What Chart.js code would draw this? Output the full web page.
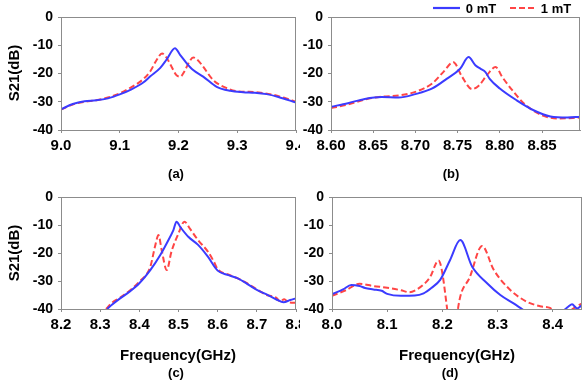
<!DOCTYPE html>
<html><head><meta charset="utf-8">
<script src="https://cdn.jsdelivr.net/npm/chart.js@4.4.1/dist/chart.umd.min.js"></script>
<style>
html,body{margin:0;padding:0;background:#fff;}
body{width:582px;height:380px;overflow:hidden;position:relative;font-family:"Liberation Sans",Arial,sans-serif;color:#000;}
.panel{position:absolute;}
.panel canvas{display:block;}
.txt{position:absolute;font-weight:bold;white-space:nowrap;transform:translate(-50%,-50%);line-height:1;}
.ytitle{position:absolute;font-weight:bold;font-size:15px;white-space:nowrap;transform:translate(-50%,-50%) rotate(-90deg);line-height:1;}
.leg{position:absolute;top:0;left:0;}
</style></head>
<body>
<div class="panel" style="left:0;top:0"><canvas id="ca" width="300" height="190"></canvas></div>
<div class="panel" style="left:300px;top:0"><canvas id="cb" width="282" height="190"></canvas></div>
<div class="panel" style="left:0;top:190px"><canvas id="cc" width="300" height="190"></canvas></div>
<div class="panel" style="left:300px;top:190px"><canvas id="cd" width="282" height="190"></canvas></div>

<div class="ytitle" style="left:13px;top:73px">S21(dB)</div>
<div class="ytitle" style="left:13px;top:253px">S21(dB)</div>
<div class="txt" style="left:178px;top:354px;font-size:15px">Frequency(GHz)</div>
<div class="txt" style="left:457px;top:354px;font-size:15px">Frequency(GHz)</div>
<div class="txt" style="left:176px;top:173px;font-size:13px">(a)</div>
<div class="txt" style="left:451px;top:173px;font-size:13px">(b)</div>
<div class="txt" style="left:176px;top:372px;font-size:13px">(c)</div>
<div class="txt" style="left:450px;top:372px;font-size:13px">(d)</div>

<svg class="leg" width="582" height="20" style="position:absolute;left:0;top:0">
  <line x1="433" y1="8" x2="460" y2="8" stroke="#3b3bff" stroke-width="2.2"/>
  <line x1="510" y1="8" x2="536" y2="8" stroke="#ff4545" stroke-width="2.2" stroke-dasharray="6,3"/>
</svg>
<div class="txt" id="lg0" style="left:481px;top:8px;font-size:13px"></div>
<div class="txt" id="lg1" style="left:556px;top:8px;font-size:13px"></div>

<script>
// ---------- data ----------
const seriesNames = ['0 mT', '1 mT'];
const yTickLabels = ['0', '-10', '-20', '-30', '-40'];

// (a)
const xTickLabelsA = ['9.0', '9.1', '9.2', '9.3', '9.4'];
const freqA0 = [9.00, 9.02, 9.04, 9.06, 9.08, 9.10, 9.12, 9.14, 9.152, 9.169, 9.18, 9.194, 9.203, 9.214, 9.225, 9.242, 9.265, 9.288, 9.31, 9.33, 9.35, 9.37, 9.40];
const s21A0  = [-32.7, -30.8, -29.8, -29.5, -28.8, -27.4, -25.6, -23.2, -21.0, -18.0, -15.0, -11.1, -13.5, -16.4, -18.8, -21.1, -24.7, -26.1, -26.6, -26.8, -27.3, -28.3, -30.3];
const freqA1 = [9.00, 9.02, 9.04, 9.06, 9.08, 9.10, 9.12, 9.14, 9.152, 9.162, 9.172, 9.18, 9.188, 9.196, 9.203, 9.21, 9.218, 9.225, 9.233, 9.242, 9.259, 9.282, 9.30, 9.32, 9.34, 9.36, 9.38, 9.40];
const s21A1  = [-32.8, -31.0, -30.0, -29.5, -28.5, -27.0, -24.8, -22.0, -19.2, -15.5, -12.9, -14.5, -17.5, -20.5, -21.1, -19.3, -16.0, -14.3, -15.3, -17.6, -22.3, -25.2, -26.3, -26.5, -26.8, -27.5, -28.6, -30.0];

// (b)
const xTickLabelsB = ['8.60', '8.65', '8.70', '8.75', '8.80', '8.85'];
const freqB0 = [8.60, 8.62, 8.64, 8.66, 8.68, 8.70, 8.72, 8.737, 8.753, 8.763, 8.771, 8.777, 8.783, 8.788, 8.80, 8.82, 8.84, 8.86, 8.88, 8.895];
const s21B0  = [-31.8, -30.5, -29.0, -28.3, -28.5, -27.3, -25.3, -21.9, -18.3, -14.2, -17.1, -18.3, -19.5, -21.9, -25.3, -29.5, -33.0, -35.2, -35.6, -35.3];
const freqB1 = [8.60, 8.62, 8.64, 8.66, 8.68, 8.70, 8.72, 8.733, 8.745, 8.755, 8.767, 8.775, 8.785, 8.795, 8.803, 8.815, 8.83, 8.85, 8.87, 8.895];
const s21B1  = [-32.2, -31.0, -29.2, -28.2, -27.8, -26.5, -23.5, -19.5, -16.0, -21.0, -25.5, -24.3, -20.5, -17.7, -21.3, -26.0, -31.0, -34.8, -35.9, -35.6];

// (c)
const xTickLabelsC = ['8.2', '8.3', '8.4', '8.5', '8.6', '8.7', '8.8'];
const freqC0 = [8.318, 8.33, 8.35, 8.375, 8.40, 8.428, 8.4535, 8.47, 8.487, 8.495, 8.505, 8.525, 8.55, 8.575, 8.60, 8.625, 8.65, 8.675, 8.70, 8.725, 8.75, 8.768, 8.785, 8.80];
const s21C0  = [-40.0, -38.5, -36.3, -33.8, -30.8, -26.1, -20.7, -16.5, -11.8, -8.8, -10.8, -14.2, -17.1, -21.3, -26.3, -27.8, -29.0, -31.0, -33.2, -34.8, -36.6, -37.6, -36.8, -36.2];
const freqC1 = [8.315, 8.33, 8.35, 8.375, 8.40, 8.428, 8.44, 8.449, 8.457, 8.47, 8.482, 8.50, 8.515, 8.53, 8.55, 8.575, 8.59, 8.60, 8.625, 8.65, 8.675, 8.70, 8.725, 8.75, 8.76, 8.77, 8.78, 8.80];
const s21C1  = [-40.0, -37.8, -36.0, -33.5, -30.2, -24.9, -17.7, -13.6, -18.9, -26.1, -19.5, -13.0, -8.8, -11.5, -15.4, -19.5, -23.0, -25.8, -27.6, -29.0, -30.8, -33.0, -35.0, -36.0, -37.3, -36.5, -37.5, -37.8];

// (d)
const xTickLabelsD = ['8.0', '8.1', '8.2', '8.3', '8.4'];
const freqD0 = [8.00, 8.02, 8.035, 8.05, 8.06, 8.075, 8.09, 8.10, 8.125, 8.15, 8.166, 8.18, 8.196, 8.214, 8.2324, 8.254, 8.281, 8.305, 8.329, 8.347, 8.36, 8.40, 8.42, 8.428, 8.435, 8.444, 8.453];
const s21D0  = [-34.7, -33.0, -31.4, -31.8, -32.5, -33.0, -33.5, -34.6, -35.3, -35.2, -34.4, -32.5, -29.6, -22.5, -15.4, -24.9, -30.8, -35.0, -38.0, -40.4, -42.0, -42.0, -40.4, -39.2, -38.3, -39.8, -38.6];
const freqD1 = [8.00, 8.025, 8.05, 8.075, 8.10, 8.125, 8.14, 8.154, 8.17, 8.178, 8.193, 8.208, 8.218, 8.229, 8.25, 8.272, 8.293, 8.323, 8.353, 8.377, 8.395, 8.405, 8.425, 8.444, 8.453];
const s21D1  = [-35.3, -33.3, -31.0, -31.8, -32.4, -33.3, -34.0, -33.0, -30.5, -28.5, -22.7, -39.0, -60.0, -39.0, -28.5, -17.5, -26.0, -33.2, -37.4, -39.0, -39.6, -41.0, -41.0, -39.0, -38.0];

// ---------- styles ----------
const BLUE = '#3b3bff';
const RED = '#ff4545';
const AXIS = '#8c8c8c';
const FONT = '"Liberation Sans", Arial, sans-serif';

document.getElementById('lg0').textContent = seriesNames[0];
document.getElementById('lg1').textContent = seriesNames[1];

const boxPlugin = {
  id: 'plotBox',
  afterDatasetsDraw(chart) {
    const a = chart.chartArea, ctx = chart.ctx;
    ctx.save();
    ctx.strokeStyle = AXIS;
    ctx.lineWidth = 1;
    ctx.strokeRect(Math.round(a.left) + 0.5, Math.round(a.top) + 0.5, Math.round(a.right - a.left) - 1, Math.round(a.bottom - a.top));
    ctx.restore();
  }
};

function pts(xs, ys) { return xs.map((x, i) => ({ x: x, y: ys[i] })); }

function makeChart(id, g, xLabels, xMax, f0, v0, f1, v1) {
  const xmin = parseFloat(xLabels[0]);
  return new Chart(document.getElementById(id), {
    type: 'line',
    data: {
      datasets: [
        { label: seriesNames[0], data: pts(f0, v0), borderColor: BLUE, borderWidth: 2, pointRadius: 0, cubicInterpolationMode: 'monotone', fill: false },
        { label: seriesNames[1], data: pts(f1, v1), borderColor: RED, borderWidth: 2, borderDash: [6, 3], pointRadius: 0, cubicInterpolationMode: 'monotone', fill: false }
      ]
    },
    options: {
      responsive: false,
      animation: false,
      devicePixelRatio: 1,
      layout: { padding: { left: 0, top: g.top, right: g.w - g.right, bottom: 0 } },
      plugins: { legend: { display: false }, tooltip: { enabled: false } },
      scales: {
        x: {
          type: 'linear', min: xmin, max: xMax,
          afterBuildTicks: s => { s.ticks = xLabels.map(l => ({ value: parseFloat(l) })); },
          afterFit: s => { s.height = g.h - g.bottom; s.paddingLeft = 0; s.paddingRight = 0; },
          ticks: { callback: (v, i) => xLabels[i], color: '#000', font: { family: FONT, size: 15, weight: 'bold' }, padding: 4, maxRotation: 0, autoSkip: false },
          grid: { drawOnChartArea: false, drawTicks: true, tickLength: 3, color: AXIS },
          border: { color: AXIS, width: 1 }
        },
        y: {
          type: 'linear', min: -40, max: 0,
          afterBuildTicks: s => { s.ticks = yTickLabels.map(l => ({ value: parseFloat(l) })); },
          afterFit: s => { s.width = g.left; s.paddingTop = 0; s.paddingBottom = 0; },
          ticks: { callback: (v, i) => yTickLabels[i], color: '#000', font: { family: FONT, size: 14, weight: 'bold' }, padding: 5, autoSkip: false },
          grid: { drawOnChartArea: false, drawTicks: true, tickLength: 3, color: AXIS },
          border: { color: AXIS, width: 1 }
        }
      }
    },
    plugins: [boxPlugin]
  });
}

makeChart('ca', { w: 300, h: 190, left: 61, top: 17, right: 296, bottom: 130 }, xTickLabelsA, 9.4, freqA0, s21A0, freqA1, s21A1);
makeChart('cb', { w: 282, h: 190, left: 31, top: 17, right: 280, bottom: 130 }, xTickLabelsB, 8.895, freqB0, s21B0, freqB1, s21B1);
makeChart('cc', { w: 300, h: 190, left: 61, top: 7, right: 296, bottom: 119 }, xTickLabelsC, 8.8, freqC0, s21C0, freqC1, s21C1);
makeChart('cd', { w: 282, h: 190, left: 32, top: 7, right: 282, bottom: 119 }, xTickLabelsD, 8.453, freqD0, s21D0, freqD1, s21D1);
</script>
</body></html>
